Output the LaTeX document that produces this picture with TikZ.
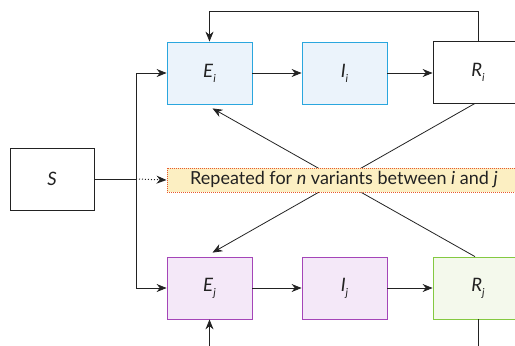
\documentclass[tikz,border=0pt]{standalone}
\usepackage{fontspec}
\setmainfont{Lato}
\usepackage{xcolor}
\usepackage{tikz}
\usetikzlibrary{positioning,calc,arrows.meta}

\definecolor{iline}{HTML}{2AA6DE}
\definecolor{ifill}{HTML}{EBF3FB}
\definecolor{jline}{HTML}{A445B8}
\definecolor{jfill}{HTML}{F4E8F8}
\definecolor{rline}{HTML}{84C941}
\definecolor{rfill}{HTML}{F4F9EC}
\definecolor{repfill}{HTML}{FCEFC2}
\definecolor{repline}{HTML}{E8592F}
\definecolor{ink}{HTML}{222222}

\newcommand{\comp}[2]{\textit{#1}\raisebox{-5pt}{\fontsize{11}{11}\selectfont\textit{#2}}}

\begin{document}
\begin{tikzpicture}[x=1pt, y=-1pt, line width=0.8pt, ink,
    box/.style={draw=ink, fill=white, minimum width=85pt, minimum height=62pt, inner sep=0pt,
        font=\fontsize{18.5}{20}\selectfont},
    ibox/.style={box, draw=iline, fill=ifill},
    jbox/.style={box, draw=jline, fill=jfill},
    arr/.style={-{Stealth[length=10pt, width=8pt]}}]
    \useasboundingbox (0,0) rectangle (515,346);

    % compartments
    \node[box, minimum width=84pt] (S) at (52,179) {\textit{S}};
    \node[ibox] (Ei) at (209.5,73) {\comp{E}{i}};
    \node[ibox] (Ii) at (344.5,73) {\comp{I}{i}};
    \node[box, minimum width=90pt] (Ri) at (478,72) {\comp{R}{i}};
    \node[jbox] (Ej) at (209.5,288) {\comp{E}{j}};
    \node[jbox] (Ij) at (344.5,288) {\comp{I}{j}};
    \node[box, draw=rline, fill=rfill, minimum width=90pt] (Rj) at (478,288) {\comp{R}{j}};

    % cross immunity links
    \draw[arr] ($(Ri.south)+(-3,0)$) -- ($(Ej.north)+(3,-4)$);
    \draw[arr] ($(Rj.north)+(-3,0)$) -- ($(Ei.south)+(3,4)$);

    % repeated note
    \node[draw=repline, densely dotted, line width=1pt, fill=repfill, minimum width=354pt, minimum height=24pt,
        inner sep=0pt, font=\fontsize{18}{20}\selectfont] (rep) at (344,180)
        {Repeated for \textit{n} variants between \textit{i} and \textit{j}};

    % flows
    \draw (S.east) -- (136,179) coordinate (split);
    \draw[arr, dotted, line width=1pt] (split) -- (rep.west);
    \draw[arr] (split) |- (Ei.west);
    \draw[arr] (split) |- (Ej.west);
    \draw[arr] (Ei) -- (Ii);
    \draw[arr] (Ii) -- (Ri.west |- Ii);
    \draw[arr] (Ej) -- (Ij);
    \draw[arr] (Ij) -- (Rj);
    \draw[arr] (Ri.north) -- ++(0,-29) -| (Ei.north);
    \coordinate (ejin) at (Ej.south |- 0,352);
    \draw[arr] (ejin) -- (Ej.south);
    \draw (Rj.south) -- ++(0,35);
\end{tikzpicture}
\end{document}
